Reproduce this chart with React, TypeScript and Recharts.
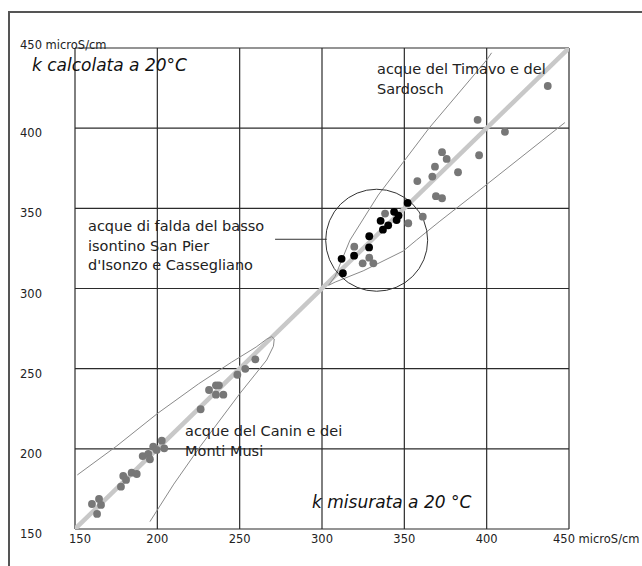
import React from "react";
import {
  CartesianGrid,
  ReferenceDot,
  ReferenceLine,
  Scatter,
  ScatterChart,
  XAxis,
  YAxis,
} from "recharts";

// k misurata (x) vs k calcolata (y), microS/cm at 20 °C

const TICKS = [150, 200, 250, 300, 350, 400, 450];

// acque del Canin e dei Monti Musi (grey)
const CANIN: [number, number][] = [
  [160.3, 165.6], [164.6, 168.7], [165.8, 165.0], [163.4, 159.4],
  [177.9, 176.4], [179.3, 183.1], [181.0, 180.6], [184.4, 185.1],
  [187.5, 184.3], [191.1, 195.5], [194.5, 196.8], [195.5, 193.5],
  [197.5, 201.3], [199.6, 199.3], [202.7, 205.1], [204.2, 200.3],
  [226.3, 224.7], [231.4, 236.7], [235.6, 239.6], [237.4, 239.6],
  [235.6, 233.8], [240.1, 233.8], [248.6, 246.2], [253.4, 249.9],
  [259.5, 255.8],
];

// acque del Timavo e del Sardosch (grey)
const TIMAVO: [number, number][] = [
  [437.1, 426.3], [394.5, 405.2], [411.1, 397.7], [372.9, 385.0],
  [375.7, 380.8], [395.4, 383.1], [368.6, 376.0], [367.0, 369.8],
  [382.6, 372.5], [357.9, 367.0], [369.2, 357.6], [372.9, 356.3],
  [361.2, 344.8], [352.4, 340.7], [338.3, 346.7], [319.6, 326.1],
  [328.7, 319.2], [331.2, 315.7], [324.7, 315.7],
];

// acque di falda del basso isontino (black)
const FALDA: [number, number][] = [
  [352.0, 353.4], [343.8, 347.8], [346.5, 345.5], [345.3, 342.7],
  [335.6, 342.2], [340.2, 339.4], [337.0, 336.7], [328.7, 332.6],
  [328.6, 325.6], [319.5, 320.5], [311.9, 318.5], [312.7, 309.5],
];

// outlines
const BISECTOR: [number, number][] = [[150, 150], [451.5, 451.5]];
const CANIN_OUTLINE: [number, number][] = [
  [151.4, 183.7], [175, 201.5], [200.4, 222.3], [225, 240.5], [245, 254],
  [260, 263.5], [266.5, 268.5], [269.5, 270], [271, 268.5], [270.5, 264],
  [266.4, 255.4], [250.2, 234.6], [225.9, 201.3], [210, 178], [195.5, 154.6],
];
const TIMAVO_UPPER: [number, number][] = [
  [304, 302], [307.9, 307.4], [317, 330.2], [334.2, 358.3], [365, 400],
  [400, 442.5], [403, 447],
];
const TIMAVO_LOWER: [number, number][] = [
  [304, 302], [308, 304], [325, 311], [349.4, 323.4], [357.5, 330.3],
  [371.6, 342], [394, 360], [447.5, 403.5],
];
const CIRCLE_CENTER = { x: 333.2, y: 330.1 };

const pts = (a: [number, number][]) => a.map(([x, y]) => ({ x, y }));

const FONT = "DejaVu Sans, Verdana, sans-serif";
const GRID = "#2b2b2b";
const THIN = "#8a8a8a";

const dot = (fill: string) => (p: any) =>
  <circle cx={p.cx} cy={p.cy} r={3.9} fill={fill} />;
const none = () => <g />;

const YTick = (p: any) => {
  const v = p.payload.value;
  const top = v === 450;
  return (
    <text x={20} y={top ? p.y - 3 : p.y + 5} dominantBaseline="central"
      fontSize={11.5} fill="#222" fontFamily={FONT}>
      {top ? "450 microS/cm" : v}
    </text>
  );
};

const XTick = (p: any) => {
  const v = p.payload.value;
  const last = v === 450;
  return (
    <text x={last ? p.x - 16 : p.x + (v === 150 ? 5 : 0)} y={539}
      textAnchor={last ? "start" : "middle"} dominantBaseline="central"
      fontSize={11.5} fill="#222" fontFamily={FONT}>
      {last ? "450 microS/cm" : v}
    </text>
  );
};

const note: React.CSSProperties = {
  position: "absolute",
  fontFamily: FONT,
  fontSize: 14.5,
  lineHeight: "19.5px",
  color: "#222",
  whiteSpace: "nowrap",
};
const title: React.CSSProperties = {
  position: "absolute",
  fontFamily: FONT,
  fontSize: 17,
  fontStyle: "italic",
  color: "#111",
  whiteSpace: "nowrap",
  lineHeight: "20px",
};

export default function App() {
  return (
    <div style={{ position: "absolute", left: 0, top: 0, width: 642, height: 566, background: "#fff", overflow: "hidden" }}>
      <div style={{ position: "absolute", left: 8, top: 11, width: 640, height: 560, borderTop: "2px solid #555", borderLeft: "2px solid #555" }} />
      <ScatterChart width={642} height={566} margin={{ top: 48, right: 73, bottom: 0, left: 0 }}>
        <CartesianGrid stroke={GRID} strokeWidth={1.2} />
        <XAxis type="number" dataKey="x" domain={[150, 450]} ticks={TICKS} interval={0}
          allowDataOverflow axisLine={false} tickLine={false} height={37} tick={XTick} />
        <YAxis type="number" dataKey="y" domain={[150, 450]} ticks={TICKS} interval={0}
          allowDataOverflow axisLine={false} tickLine={false} width={75} tick={YTick} />
        <Scatter data={pts(BISECTOR)} line={{ stroke: "#c8c8c8", strokeWidth: 4.5 }}
          shape={none} isAnimationActive={false} />
        <Scatter data={pts(CANIN_OUTLINE)} line={{ stroke: THIN, strokeWidth: 1 }}
          shape={none} isAnimationActive={false} />
        <Scatter data={pts(TIMAVO_UPPER)} line={{ stroke: THIN, strokeWidth: 1 }}
          shape={none} isAnimationActive={false} />
        <Scatter data={pts(TIMAVO_LOWER)} line={{ stroke: THIN, strokeWidth: 1 }}
          shape={none} isAnimationActive={false} />
        <ReferenceDot x={CIRCLE_CENTER.x} y={CIRCLE_CENTER.y} r={51} fill="none"
          stroke="#333" strokeWidth={1} ifOverflow="visible" />
        <ReferenceLine segment={[{ x: 271.5, y: 330.7 }, { x: 302.9, y: 330.7 }]}
          stroke="#333" strokeWidth={1} ifOverflow="visible" />
        <Scatter data={pts(CANIN)} shape={dot("#777")} isAnimationActive={false} />
        <Scatter data={pts(TIMAVO)} shape={dot("#777")} isAnimationActive={false} />
        <Scatter data={pts(FALDA)} shape={dot("#000")} isAnimationActive={false} />
      </ScatterChart>
      <div style={{ ...title, left: 32, top: 55 }}>k calcolata a 20°C</div>
      <div style={{ ...title, left: 312, top: 492 }}>k misurata a 20 °C</div>
      <div style={{ ...note, left: 377, top: 60 }}>acque del Timavo e del<br />Sardosch</div>
      <div style={{ ...note, left: 88, top: 217 }}>acque di falda del basso<br />isontino San Pier<br />d'Isonzo e Cassegliano</div>
      <div style={{ ...note, left: 185, top: 422 }}>acque del Canin e dei<br />Monti Musi</div>
    </div>
  );
}
